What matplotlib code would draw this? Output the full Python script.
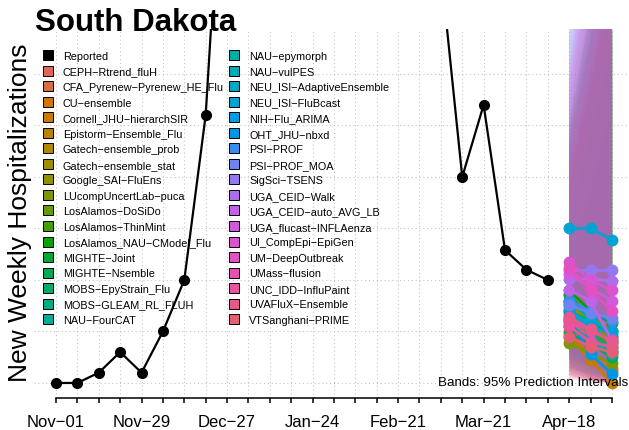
import numpy as np
import pandas as pd
import matplotlib
matplotlib.use('Agg')
import matplotlib.pyplot as plt
import matplotlib.dates as mdates
from matplotlib.lines import Line2D

plt.rcParams['font.family'] = ['Liberation Sans', 'DejaVu Sans']

# weekly dates, Nov-01 through May-02
weeks = pd.date_range('2025-11-01', periods=27, freq='7D')
tick_labels = ['Nov-01', 'Nov-29', 'Dec-27', 'Jan-24', 'Feb-21', 'Mar-21', 'Apr-18']

# reported weekly hospitalizations (Nov-01 .. Apr-11); Jan/Feb are above the plot top
reported = [0, 0, 10, 30, 10, 50, 100, 260, 600, 760, 880, 820, 700, 600,
            540, 490, 460, 430, 402, 200, 270, 129, 110, 100]

models = ['CEPH-Rtrend_fluH', 'CFA_Pyrenew-Pyrenew_HE_Flu', 'CU-ensemble',
          'Cornell_JHU-hierarchSIR', 'Epistorm-Ensemble_Flu', 'Gatech-ensemble_prob',
          'Gatech-ensemble_stat', 'Google_SAI-FluEns', 'LUcompUncertLab-puca',
          'LosAlamos-DoSiDo', 'LosAlamos-ThinMint', 'LosAlamos_NAU-CModel_Flu',
          'MIGHTE-Joint', 'MIGHTE-Nsemble', 'MOBS-EpyStrain_Flu', 'MOBS-GLEAM_RL_FLUH',
          'NAU-FourCAT', 'NAU-epymorph', 'NAU-vulPES', 'NEU_ISI-AdaptiveEnsemble',
          'NEU_ISI-FluBcast', 'NIH-Flu_ARIMA', 'OHT_JHU-nbxd', 'PSI-PROF', 'PSI-PROF_MOA',
          'SigSci-TSENS', 'UGA_CEID-Walk', 'UGA_CEID-auto_AVG_LB', 'UGA_flucast-INFLAenza',
          'UI_CompEpi-EpiGen', 'UM-DeepOutbreak', 'UMass-flusion', 'UNC_IDD-InfluPaint',
          'UVAFluX-Ensemble', 'VTSanghani-PRIME']

# median forecasts for Apr-18, Apr-25, May-02
fc_mid = [[60, 45, 35], [55, 30, 15], [50, 25, 12], [45, 22, 0], [80, 55, 40],
          [75, 50, 30], [70, 55, 45], [78, 60, 42], [39, 28, 19], [85, 65, 50],
          [65, 50, 35], [90, 70, 58], [86, 62, 45], [48, 38, 25], [70, 60, 50],
          [62, 48, 32], [58, 40, 28], [55, 42, 30], [72, 55, 38], [80, 62, 50],
          [150, 150, 139], [68, 55, 48], [62, 28, 9], [80, 70, 60], [76, 68, 63],
          [110, 110, 110], [101, 101, 99], [90, 80, 41], [106, 92, 80], [117, 100, 90],
          [112, 90, 70], [60, 50, 42], [55, 40, 35], [64, 52, 40], [45, 35, 30]]

# 95% interval bounds
fc_lo = [[20, 10, 4], [18, 6, 0], [15, 4, 0], [12, 3, 0], [30, 15, 6],
         [25, 12, 4], [28, 16, 8], [30, 18, 8], [8, 3, 0], [35, 20, 10],
         [22, 12, 5], [38, 24, 14], [32, 18, 8], [14, 8, 2], [28, 18, 10],
         [20, 10, 4], [16, 8, 3], [14, 9, 4], [24, 14, 6], [28, 16, 8],
         [70, 55, 40], [24, 15, 8], [18, 5, 0], [32, 22, 14], [30, 22, 16],
         [40, 30, 22], [36, 28, 20], [24, 14, 4], [10, 4, 0], [12, 5, 1],
         [8, 3, 0], [6, 2, 0], [5, 1, 0], [7, 2, 0], [4, 1, 0]]
fc_hi = [[200, 290, 400], [160, 240, 330], [140, 210, 290], [130, 200, 280], [230, 330, 440],
         [210, 300, 400], [190, 270, 360], [240, 340, 450], [120, 190, 270], [250, 360, 480],
         [180, 260, 340], [260, 370, 490], [240, 340, 450], [160, 240, 330], [220, 310, 420],
         [200, 290, 390], [180, 260, 350], [190, 280, 380], [230, 330, 440], [250, 360, 480],
         [330, 480, 650], [240, 350, 470], [210, 300, 400], [270, 390, 520], [360, 500, 660],
         [380, 540, 720], [350, 500, 670], [310, 450, 600], [300, 440, 600], [290, 420, 580],
         [280, 410, 560], [230, 330, 440], [220, 310, 420], [250, 360, 480], [200, 290, 390]]


def hcl(h, c, l):
    # polar CIE-Luv to sRGB
    hr = np.deg2rad(h)
    u = c*np.cos(hr)
    v = c*np.sin(hr)
    xn, yn, zn = 95.047, 100.0, 108.883
    un = 4*xn/(xn + 15*yn + 3*zn)
    vn = 9*yn/(xn + 15*yn + 3*zn)
    Y = yn*((l + 16)/116)**3
    up = u/(13*l) + un
    vp = v/(13*l) + vn
    X = Y*9*up/(4*vp)
    Z = Y*(12 - 3*up - 20*vp)/(4*vp)
    X, Y, Z = X/100, Y/100, Z/100
    r = 3.2404542*X - 1.5371385*Y - 0.4985314*Z
    g = -0.9692660*X + 1.8760108*Y + 0.0415560*Z
    b = 0.0556434*X - 0.2040259*Y + 1.0572252*Z
    def gam(t):
        t = min(max(t, 0), 1)
        return 12.92*t if t <= 0.0031308 else 1.055*t**(1/2.4) - 0.055
    return (gam(r), gam(g), gam(b))


n = len(models)
colors = [hcl(15 + 360*i/n, 95, 58) for i in range(n)]

fig = plt.figure(figsize=(6.29, 4.31), dpi=100)
ax = fig.add_axes([34/629, 32/431, 595/629, 369/431])

x0 = mdates.date2num(weeks[0])
ax.set_xlim(x0 - 1.03*7, x0 + 26.8*7)
ax.set_ylim(-14.6, 343.7)

# grid
for w in weeks:
    ax.axvline(mdates.date2num(w), color='#c4c4c4', lw=0.8, ls=(0, (1, 2.5)), zorder=0)
for g in range(0, 350, 50):
    ax.axhline(g, color='#c4c4c4', lw=0.8, ls=(0, (1, 2.5)), zorder=0)

fc_weeks = weeks[24:]
for i in range(n):
    ax.fill_between(fc_weeks, fc_lo[i], fc_hi[i], color=colors[i], alpha=0.12, lw=0, zorder=1)
for i in range(n):
    ax.plot(fc_weeks, fc_mid[i], color=colors[i], lw=2.0, marker='o', ms=7.5, zorder=2)

ax.plot(weeks[:len(reported)], reported, color='black', lw=1.6, marker='o', ms=7, zorder=3)

for s in ['left', 'top', 'right']:
    ax.spines[s].set_visible(False)
ax.spines['bottom'].set_bounds(mdates.date2num(weeks[0]), mdates.date2num(weeks[-1]))
ax.spines['bottom'].set_linewidth(1.1)
ax.set_yticks([])
ax.set_xticks(weeks)
lab = {l: l.replace('-', '\u2212') for l in tick_labels}
ax.set_xticklabels([lab.get(w.strftime('%b-%d'), '') for w in weeks], fontsize=12)
ax.tick_params(axis='x', direction='out', length=3.6, width=1.1, pad=8)

handles = [Line2D([], [], ls='none', marker='s', ms=6.5, mfc='black', mec='black', mew=0.7)]
handles += [Line2D([], [], ls='none', marker='s', ms=6.5, mfc=c, mec='black', mew=0.7) for c in colors]
labels = ['Reported'] + [m.replace('-', '\u2212') for m in models]
fig.legend(handles, labels, ncol=2, loc='upper left', bbox_to_anchor=(42.4/629, 1 - 52/431),
           frameon=False, fontsize=7.8, borderpad=0, handlelength=1.0, handletextpad=0.9,
           columnspacing=0.45, labelspacing=0.51, borderaxespad=0)

fig.text(35/629, 1 - 31/431, 'South Dakota', fontsize=22.5, fontweight='bold',
         ha='left', va='baseline')
fig.text(20/629, 1 - 213/431, 'New Weekly Hospitalizations', fontsize=19, rotation=90,
         ha='center', va='center')
fig.text(628/629, 1 - 383/431, 'Bands: 95% Prediction Intervals', fontsize=9.6,
         ha='right', va='center')

fig.savefig('out.png', dpi=100)
